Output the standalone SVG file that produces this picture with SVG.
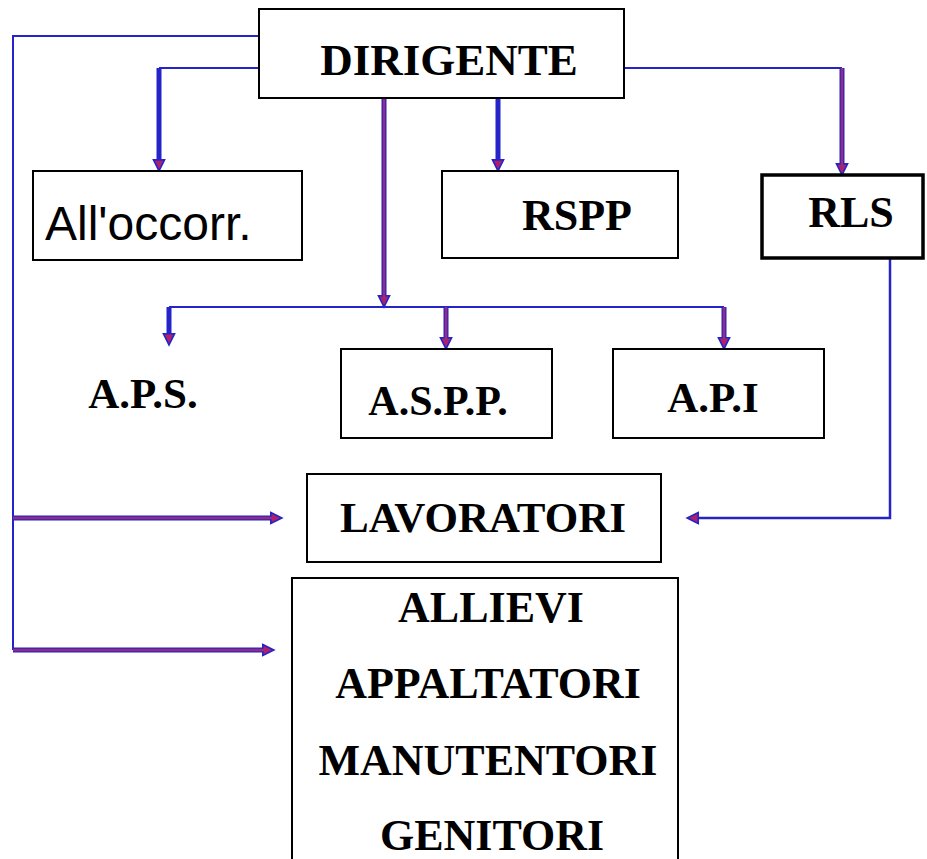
<svg xmlns="http://www.w3.org/2000/svg" width="927" height="859" viewBox="0 0 927 859">
<style>
  .box{fill:#fff;stroke:#000;stroke-width:2}
  .tb{font-family:"Liberation Serif","Times New Roman",serif;font-weight:bold;fill:#000;text-anchor:middle}
  .thin{fill:none;stroke:#2424c8;stroke-width:2}
  .thick{fill:none;stroke:#2424c8;stroke-width:5}
  .core{fill:none;stroke:#9a2a7a;stroke-width:2.5}
</style>
<defs>
  <marker id="ah" viewBox="0 0 10 10" refX="2" refY="5" markerWidth="11" markerHeight="11" markerUnits="userSpaceOnUse" orient="auto" overflow="visible">
    <path d="M0,0 L10,5 L0,10 z" fill="#b0206a" stroke="#2424c8" stroke-width="1.5"/>
  </marker>
</defs>
<rect width="927" height="859" fill="#fff"/>
<g id="connectors">
  <path class="thin" d="M259,36 H13 V650"/>
  <path class="thin" d="M259,68 H159"/>
  <path class="thick" d="M159,68 V162" marker-end="url(#ah)"/>
  <path class="thick" d="M384,98 V298" marker-end="url(#ah)"/>
  <path class="core" d="M384,98 V298"/>
  <path class="thick" d="M498,98 V162" marker-end="url(#ah)"/>
  <path class="thin" d="M624,68 H842"/>
  <path class="thick" d="M842,68 V166" marker-end="url(#ah)"/>
  <path class="core" d="M842,68 V166"/>
  <path class="thin" d="M169,307 H724"/>
  <path class="thick" d="M169,307 V336" marker-end="url(#ah)"/>
  <path class="thick" d="M446,307 V340" marker-end="url(#ah)"/>
  <path class="core" d="M446,307 V340"/>
  <path class="thick" d="M724,307 V340" marker-end="url(#ah)"/>
  <path class="core" d="M724,307 V340"/>
  <path class="thin" d="M890,258 V518 H696" marker-end="url(#ah)" style="stroke-width:2.5"/>
  <path class="thick" d="M13,518 H273" marker-end="url(#ah)"/>
  <path class="core" d="M13,518 H273"/>
  <path class="thick" d="M13,650 H265" marker-end="url(#ah)"/>
  <path class="core" d="M13,650 H265"/>
</g>
<g id="dirigente">
  <rect class="box" x="259" y="9" width="365" height="89"/>
  <text class="tb" x="449" y="75" font-size="45">DIRIGENTE</text>
</g>
<g id="alloccorr">
  <rect class="box" x="33" y="171" width="269" height="89"/>
  <text x="45" y="240" font-size="48" font-family="'Liberation Sans',Arial,sans-serif" fill="#000">All'occorr.</text>
</g>
<g id="rspp">
  <rect class="box" x="442" y="171" width="236" height="87"/>
  <text class="tb" x="577" y="230" font-size="44">RSPP</text>
</g>
<g id="rls">
  <rect class="box" x="762" y="175" width="161" height="83" style="stroke-width:3.5"/>
  <text class="tb" x="851" y="227" font-size="44">RLS</text>
</g>
<g id="aps">
  <text class="tb" x="143" y="408" font-size="43">A.P.S.</text>
</g>
<g id="aspp">
  <rect class="box" x="341" y="349" width="211" height="89"/>
  <text class="tb" x="438" y="415" font-size="42">A.S.P.P.</text>
</g>
<g id="api">
  <rect class="box" x="613" y="349" width="211" height="89"/>
  <text class="tb" x="713" y="412" font-size="43">A.P.I</text>
</g>
<g id="lavoratori">
  <rect class="box" x="307" y="474" width="354" height="88"/>
  <text class="tb" x="483" y="532" font-size="43">LAVORATORI</text>
</g>
<g id="altri">
  <rect class="box" x="292" y="578" width="386" height="300"/>
  <text class="tb" x="491" y="622" font-size="44">ALLIEVI</text>
  <text class="tb" x="488" y="698" font-size="44">APPALTATORI</text>
  <text class="tb" x="488" y="775" font-size="44">MANUTENTORI</text>
  <text class="tb" x="492" y="850" font-size="44">GENITORI</text>
</g>
</svg>
